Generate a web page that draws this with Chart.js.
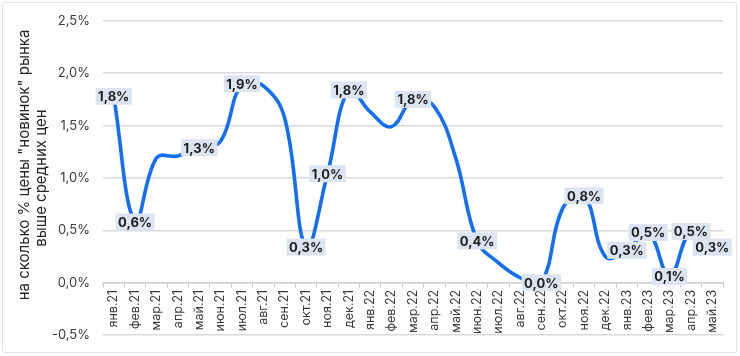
<!DOCTYPE html>
<html><head><meta charset="utf-8">
<script src="https://cdn.jsdelivr.net/npm/chart.js@4.4.0/dist/chart.umd.min.js"></script>
<style>
html,body{margin:0;padding:0;background:#fff;}
#wrap{position:relative;width:740px;height:356px;overflow:hidden;}
#frame{position:absolute;left:2px;top:2px;width:733px;height:349px;border:1px solid #e2e2e2;border-radius:3px;pointer-events:none;}
canvas{position:absolute;left:0;top:0;}
</style></head><body>
<div id="wrap"><canvas id="c" width="740" height="356"></canvas><div id="frame"></div></div>
<script>
const categories = ['янв.21','фев.21','мар.21','апр.21','май.21','июн.21','июл.21','авг.21','сен.21','окт.21','ноя.21','дек.21',
  'янв.22','фев.22','мар.22','апр.22','май.22','июн.22','июл.22','авг.22','сен.22','окт.22','ноя.22','дек.22',
  'янв.23','фев.23','мар.23','апр.23','май.23'];
const values = [1.78,0.58,1.19,1.21,1.29,1.35,1.90,1.88,1.57,0.34,1.04,1.84,
  1.63,1.49,1.75,1.68,1.19,0.40,0.19,0.05,0.00,0.71,0.83,0.25,
  0.31,0.48,0.06,0.49,0.34];
const pointLabels = ['1,8%','0,6%',null,null,'1,3%',null,'1,9%',null,null,'0,3%','1,0%','1,8%',
  null,null,'1,8%',null,null,'0,4%',null,null,'0,0%',null,'0,8%',null,
  '0,3%','0,5%','0,1%','0,5%','0,3%'];
const yMin = -0.5, yMax = 2.5, yStep = 0.5;
const yTitleLines = ['на сколько % цены "новинок" рынка', 'выше средних цен'];

const FONT = 'Inter, "Noto Sans", sans-serif';
const fmt = v => v.toFixed(1).replace('.', ',') + '%';

const labelPlugin = {
  id: 'pointLabels',
  afterDatasetsDraw(chart) {
    const meta = chart.getDatasetMeta(0);
    const ctx = chart.ctx;
    ctx.save();
    ctx.font = 'bold 13px ' + FONT;
    ctx.textAlign = 'center';
    ctx.textBaseline = 'middle';
    meta.data.forEach((pt, i) => {
      const t = pointLabels[i];
      if (!t) return;
      const w = ctx.measureText(t).width + 5;
      const h = 17;
      ctx.fillStyle = '#dde4f1';
      ctx.fillRect(pt.x - w / 2, pt.y - h / 2, w, h);
      ctx.fillStyle = '#1c1c1c';
      ctx.fillText(t, pt.x, pt.y + 1);
    });
    ctx.restore();
  }
};

const titlePlugin = {
  id: 'yTitle',
  afterDraw(chart) {
    const ctx = chart.ctx;
    ctx.save();
    ctx.font = '15px ' + FONT;
    ctx.fillStyle = '#262626';
    ctx.textAlign = 'center';
    ctx.textBaseline = 'middle';
    const pos = [[24, 165], [41, 178]];
    yTitleLines.forEach((t, i) => {
      ctx.save();
      ctx.translate(pos[i][0], pos[i][1]);
      ctx.rotate(-Math.PI / 2);
      ctx.fillText(t, 0, 0);
      ctx.restore();
    });
    ctx.restore();
  }
};

new Chart(document.getElementById('c'), {
  type: 'line',
  data: {
    labels: categories,
    datasets: [{
      data: values,
      borderColor: '#126ef4',
      borderWidth: 3.6,
      pointRadius: 0,
      tension: 0.4,
      fill: false
    }]
  },
  options: {
    responsive: false,
    animation: false,
    devicePixelRatio: 1,
    layout: { autoPadding: false, padding: { left: 0, right: 17, top: 16, bottom: 16 } },
    plugins: { legend: { display: false }, tooltip: { enabled: false } },
    scales: {
      x: {
        type: 'category',
        position: { y: 0 },
        offset: true,
        grid: { display: true, drawOnChartArea: false, drawTicks: true, tickLength: 4, offset: true, color: '#c8c8c8' },
        border: { display: true, color: '#cfcfcf', width: 1.5 },
        ticks: { autoSkip: false, maxRotation: 90, minRotation: 90, padding: 3, font: { family: FONT, size: 12.5 }, color: '#3a3a3a' }
      },
      y: {
        min: yMin, max: yMax,
        afterFit(s) { s.width = 103; },
        ticks: { stepSize: yStep, padding: 13, callback: v => fmt(v), font: { family: FONT, size: 13 }, color: '#3a3a3a' },
        grid: { color: '#dadada', lineWidth: 1.5, drawTicks: false },
        border: { display: false }
      }
    }
  },
  plugins: [labelPlugin, titlePlugin]
});
</script>
</body></html>
